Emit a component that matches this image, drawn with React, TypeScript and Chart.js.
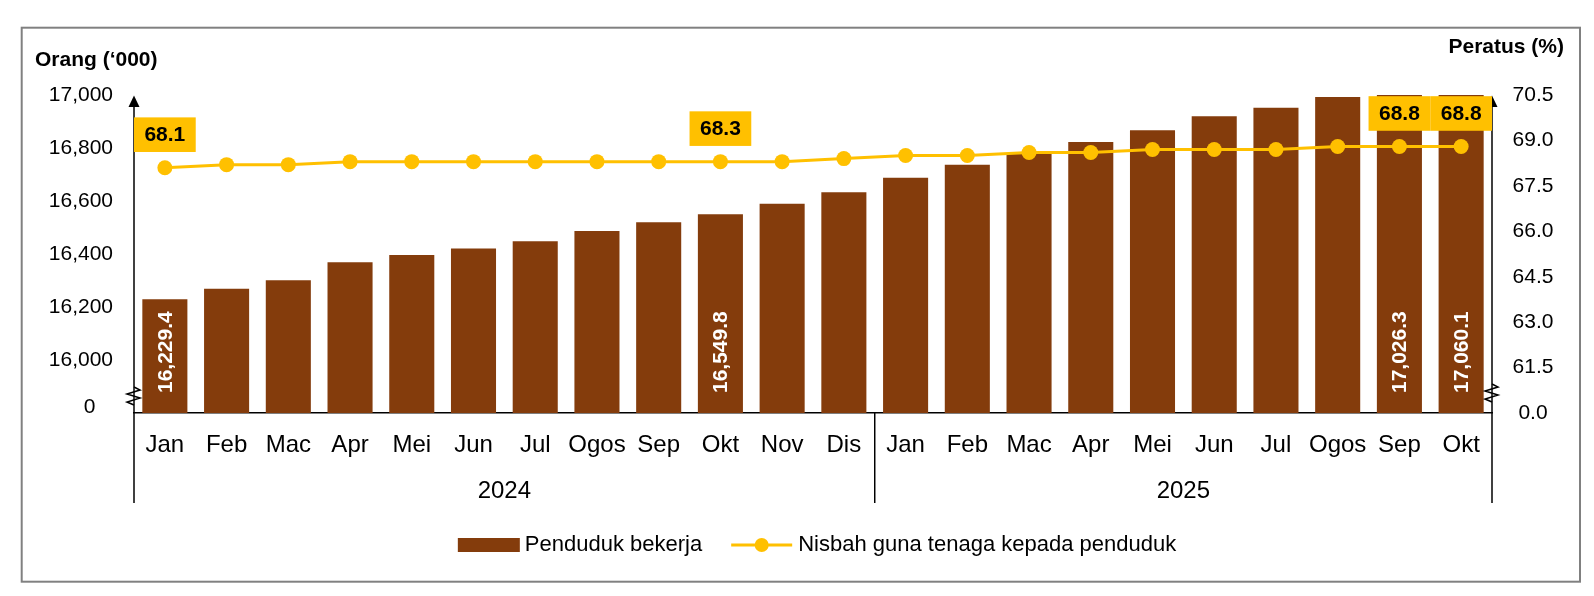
import { useEffect, useRef } from 'react';
import { Chart, registerables } from 'chart.js';

Chart.register(...registerables);

const MONTHS = ['Jan', 'Feb', 'Mac', 'Apr', 'Mei', 'Jun', 'Jul', 'Ogos', 'Sep', 'Okt', 'Nov', 'Dis',
  'Jan', 'Feb', 'Mac', 'Apr', 'Mei', 'Jun', 'Jul', 'Ogos', 'Sep', 'Okt'];
const YEARS = ['2024', '2025'];
const YEAR_SPANS = [12, 10];

const EMPLOYED = [16229.4, 16269, 16301, 16369, 16396, 16421, 16448, 16487, 16520, 16549.8, 16590, 16633,
  16688, 16737, 16780, 16823, 16867, 16920, 16952, 16992, 17026.3, 17060.1];
const RATIO = [68.1, 68.2, 68.2, 68.3, 68.3, 68.3, 68.3, 68.3, 68.3, 68.3, 68.3, 68.4,
  68.5, 68.5, 68.6, 68.6, 68.7, 68.7, 68.7, 68.8, 68.8, 68.8];
const LABELLED = [0, 9, 20, 21];

const LEFT_TICKS = [15800, 16000, 16200, 16400, 16600, 16800, 17000];
const LEFT_LABELS = ['0', '16,000', '16,200', '16,400', '16,600', '16,800', '17,000'];
const RIGHT_TICKS = [60, 61.5, 63, 64.5, 66, 67.5, 69, 70.5];
const RIGHT_LABELS = ['0.0', '61.5', '63.0', '64.5', '66.0', '67.5', '69.0', '70.5'];

const BAR_COLOR = '#843C0C';
const LINE_COLOR = '#FFC000';
const FONT = '"Liberation Sans", Arial, Helvetica, sans-serif';

const fmtBar = (v: number) =>
  v.toLocaleString('en-US', { minimumFractionDigits: 1, maximumFractionDigits: 1 });

function yearCenters(): number[] {
  const out: number[] = [];
  let start = 0;
  YEAR_SPANS.forEach((n) => {
    out.push(start + (n - 1) / 2);
    start += n;
  });
  return out;
}

const decoPlugin = {
  id: 'deco',
  beforeDatasetsDraw(chart: any) {
    const ctx = chart.ctx as CanvasRenderingContext2D;
    const ca = chart.chartArea;
    const bottomExt = 503;
    ctx.save();
    ctx.strokeStyle = '#000';
    ctx.fillStyle = '#000';
    ctx.lineWidth = 1.5;
    [ca.left, ca.right].forEach((x: number) => {
      ctx.beginPath();
      ctx.moveTo(x, ca.top + 8);
      ctx.lineTo(x, bottomExt);
      ctx.stroke();
      ctx.beginPath();
      ctx.moveTo(x, ca.top + 0.5);
      ctx.lineTo(x - 5.5, ca.top + 12);
      ctx.lineTo(x + 5.5, ca.top + 12);
      ctx.closePath();
      ctx.fill();
    });
    const catW = ca.width / MONTHS.length;
    let acc = 0;
    YEAR_SPANS.slice(0, -1).forEach((n) => {
      acc += n;
      const x = ca.left + acc * catW;
      ctx.beginPath();
      ctx.moveTo(x, ca.bottom);
      ctx.lineTo(x, bottomExt);
      ctx.stroke();
    });
    ctx.restore();
  },
  afterDatasetsDraw(chart: any) {
    const ctx = chart.ctx as CanvasRenderingContext2D;
    const ca = chart.chartArea;
    const lineMeta = chart.getDatasetMeta(0);
    const barMeta = chart.getDatasetMeta(1);
    const basePx = chart.scales.y.getPixelForValue(LEFT_TICKS[0]);
    const catW = ca.width / MONTHS.length;
    ctx.save();
    ctx.fillStyle = '#fff';
    ctx.font = `bold 21px ${FONT}`;
    ctx.textAlign = 'left';
    ctx.textBaseline = 'middle';
    LABELLED.forEach((i) => {
      const el = barMeta.data[i];
      ctx.save();
      ctx.translate(el.x + 1, basePx - 20);
      ctx.rotate(-Math.PI / 2);
      ctx.fillText(fmtBar(EMPLOYED[i]), 0, 0);
      ctx.restore();
    });
    LABELLED.forEach((i) => {
      const p = lineMeta.data[i];
      const cy = p.y - 33;
      ctx.fillStyle = LINE_COLOR;
      ctx.fillRect(p.x - catW / 2, cy - 17.3, catW, 34.6);
    });
    ctx.fillStyle = '#000';
    ctx.textAlign = 'center';
    LABELLED.forEach((i) => {
      const p = lineMeta.data[i];
      ctx.fillText(RATIO[i].toFixed(1), p.x, p.y - 33 + 1);
    });
    ctx.restore();
  },
  afterDraw(chart: any) {
    const ctx = chart.ctx as CanvasRenderingContext2D;
    const ca = chart.chartArea;
    ctx.save();
    ctx.strokeStyle = '#808080';
    ctx.lineWidth = 2;
    ctx.strokeRect(21.7, 27.7, 1558.3, 554);

    ctx.strokeStyle = '#000';
    ctx.lineWidth = 1.5;
    const zig = (x: number, y0: number) => {
      ctx.beginPath();
      ctx.moveTo(x, y0);
      ctx.lineTo(x + 6, y0 + 3);
      ctx.lineTo(x - 7, y0 + 7);
      ctx.lineTo(x + 6, y0 + 11);
      ctx.lineTo(x - 7, y0 + 15);
      ctx.lineTo(x, y0 + 18);
      ctx.stroke();
    };
    zig(ca.left, 387);
    zig(ca.right, 384);

    ctx.fillStyle = '#000';
    ctx.font = `bold 21px ${FONT}`;
    ctx.textBaseline = 'middle';
    ctx.textAlign = 'left';
    ctx.fillText('Orang (\u2018000)', 35, 60);
    ctx.textAlign = 'right';
    ctx.fillText('Peratus (%)', 1564, 47);

    const ds = chart.data.datasets;
    ctx.font = `22px ${FONT}`;
    ctx.textAlign = 'left';
    const t1 = ds[1].label as string;
    const t2 = ds[0].label as string;
    const w1 = ctx.measureText(t1).width;
    const w2 = ctx.measureText(t2).width;
    const total = 62 + 5 + w1 + 29 + 61 + 6 + w2;
    const ly = 545;
    let x = (ca.left + ca.right) / 2 + 4 - total / 2;
    ctx.fillStyle = BAR_COLOR;
    ctx.fillRect(x, ly - 7, 62, 14);
    x += 62 + 5;
    ctx.fillStyle = '#000';
    ctx.fillText(t1, x, ly);
    x += w1 + 29;
    ctx.strokeStyle = LINE_COLOR;
    ctx.lineWidth = 3;
    ctx.beginPath();
    ctx.moveTo(x, ly);
    ctx.lineTo(x + 61, ly);
    ctx.stroke();
    ctx.fillStyle = LINE_COLOR;
    ctx.beginPath();
    ctx.arc(x + 30.5, ly, 7, 0, Math.PI * 2);
    ctx.fill();
    x += 61 + 6;
    ctx.fillStyle = '#000';
    ctx.fillText(t2, x, ly);
    ctx.restore();
  },
};

export default function App() {
  const ref = useRef<HTMLCanvasElement | null>(null);

  useEffect(() => {
    document.body.style.margin = '0';
    const canvas = ref.current;
    if (!canvas) return;
    Chart.defaults.font.family = FONT;
    Chart.defaults.color = '#000';
    const centers = yearCenters();

    const chart = new Chart(canvas, {
      type: 'bar',
      data: {
        labels: MONTHS,
        datasets: [
          {
            type: 'line',
            label: 'Nisbah guna tenaga kepada penduduk',
            data: RATIO,
            yAxisID: 'y1',
            borderColor: LINE_COLOR,
            backgroundColor: LINE_COLOR,
            borderWidth: 3,
            pointRadius: 7.5,
            pointHoverRadius: 7.5,
            pointBackgroundColor: LINE_COLOR,
            pointBorderWidth: 0,
            tension: 0,
            order: 0,
          } as any,
          {
            type: 'bar',
            label: 'Penduduk bekerja',
            data: EMPLOYED,
            yAxisID: 'y',
            backgroundColor: BAR_COLOR,
            barPercentage: 0.73,
            categoryPercentage: 1,
            order: 1,
          } as any,
        ],
      },
      options: {
        responsive: false,
        animation: false,
        layout: { padding: { top: 95, bottom: 83, left: 0, right: 0 } },
        plugins: {
          legend: { display: false },
          tooltip: { enabled: false },
        },
        scales: {
          x: {
            type: 'category',
            offset: true,
            weight: 0,
            grid: { display: false, drawTicks: false },
            border: { display: true, color: '#000', width: 1.5 },
            ticks: {
              font: { size: 24, family: FONT },
              color: '#000',
              padding: 18,
              maxRotation: 0,
              autoSkip: false,
            },
            afterFit: (s: any) => { s.height = 50; },
          },
          x2: {
            type: 'linear',
            position: 'bottom',
            weight: 1,
            offset: false,
            min: -0.5,
            max: MONTHS.length - 0.5,
            bounds: 'data',
            grid: { display: false, drawTicks: false, offset: false },
            border: { display: false },
            afterBuildTicks: (s: any) => { s.ticks = centers.map((v) => ({ value: v })); },
            ticks: {
              font: { size: 24, family: FONT },
              color: '#000',
              padding: 13.5,
              maxRotation: 0,
              autoSkip: false,
              callback: (_v: any, i: number) => YEARS[i],
            },
            afterFit: (s: any) => { s.height = 50; },
          } as any,
          y: {
            type: 'linear',
            position: 'left',
            min: LEFT_TICKS[0],
            max: LEFT_TICKS[LEFT_TICKS.length - 1],
            bounds: 'data',
            grid: { display: false, drawTicks: false },
            border: { display: false },
            afterBuildTicks: (s: any) => { s.ticks = LEFT_TICKS.map((v) => ({ value: v })); },
            ticks: {
              font: { size: 21, family: FONT, lineHeight: '12px' },
              color: '#000',
              padding: 21,
              autoSkip: false,
              callback: (_v: any, i: number) => (i === 0 ? [LEFT_LABELS[0] + '   ', ''] : LEFT_LABELS[i]),
            },
            afterFit: (s: any) => { s.width = 134; },
          } as any,
          y1: {
            type: 'linear',
            position: 'right',
            min: RIGHT_TICKS[0],
            max: RIGHT_TICKS[RIGHT_TICKS.length - 1],
            bounds: 'data',
            grid: { display: false, drawTicks: false },
            border: { display: false },
            afterBuildTicks: (s: any) => { s.ticks = RIGHT_TICKS.map((v) => ({ value: v })); },
            ticks: {
              font: { size: 21, family: FONT },
              color: '#000',
              padding: 20.6,
              crossAlign: 'center',
              autoSkip: false,
              callback: (_v: any, i: number) => RIGHT_LABELS[i],
            },
            afterFit: (s: any) => { s.width = 102; },
          } as any,
        },
      },
      plugins: [decoPlugin],
    });

    return () => chart.destroy();
  }, []);

  return (
    <div style={{ width: 1594, height: 596, background: '#fff' }}>
      <canvas ref={ref} width={1594} height={596} style={{ display: 'block', width: 1594, height: 596 }} />
    </div>
  );
}
